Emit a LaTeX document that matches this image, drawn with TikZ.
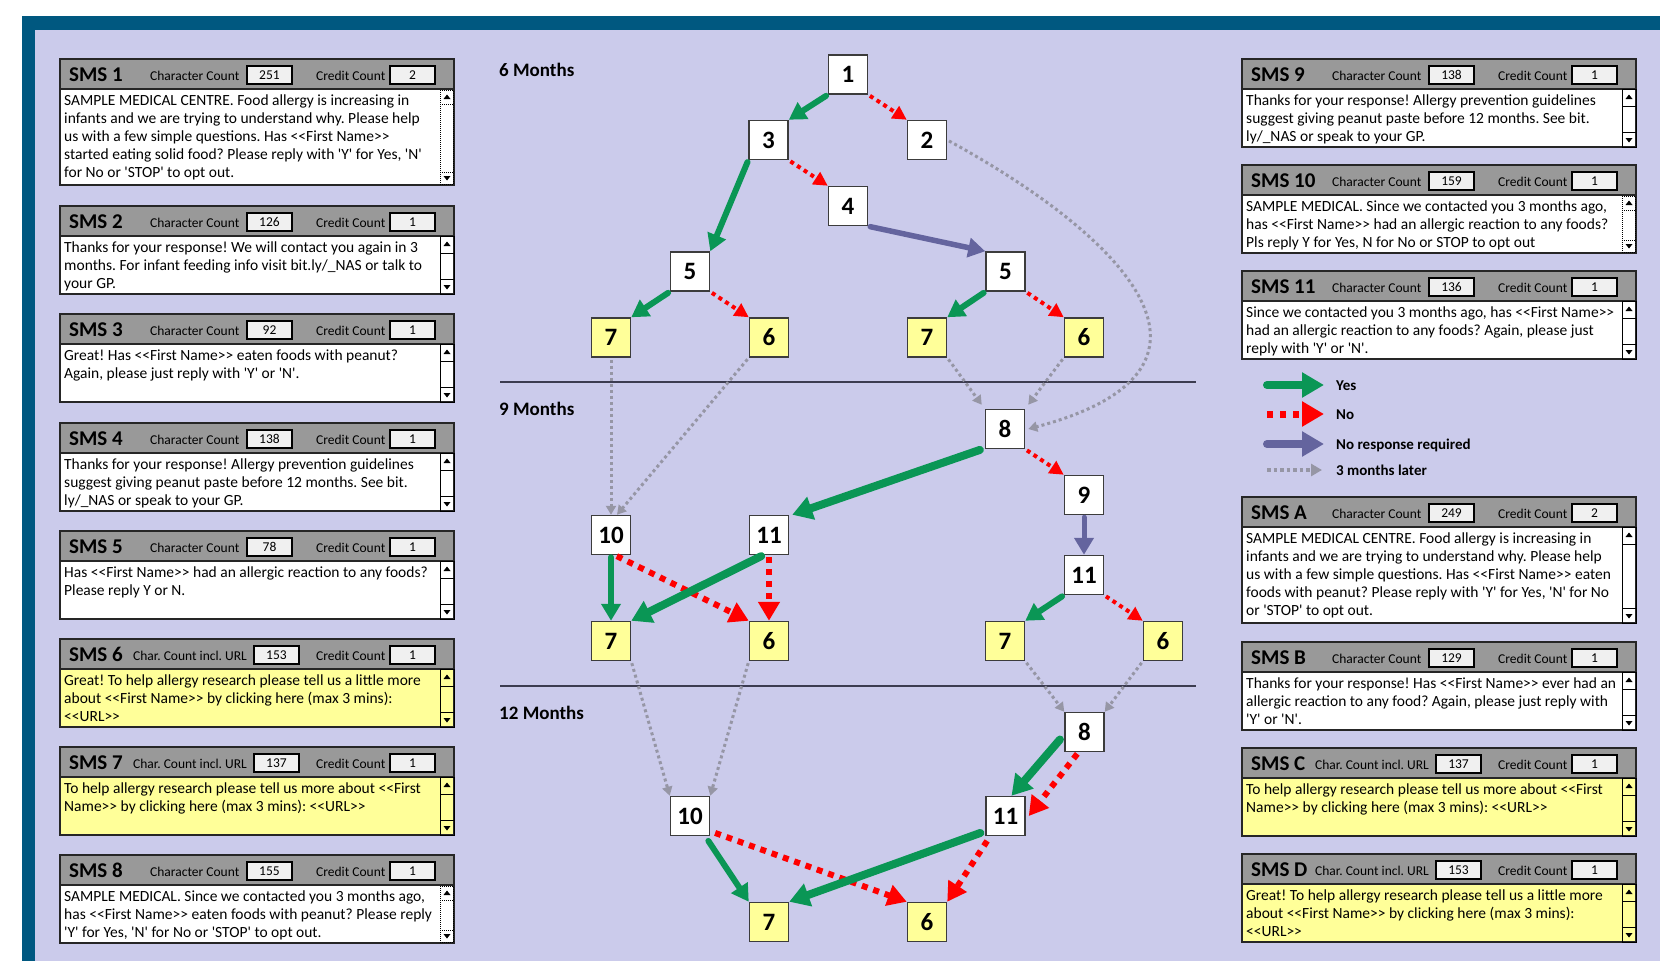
\documentclass[tikz,border=0pt]{standalone}
\usepackage{fontspec}
\setmainfont{Carlito}[Ligatures=TeXOff]
\usetikzlibrary{arrows.meta}
\frenchspacing

\definecolor{frameblue}{RGB}{0,88,128}
\definecolor{lav}{RGB}{203,203,235}
\definecolor{hdrgray}{RGB}{153,153,153}
\definecolor{valgray}{RGB}{240,240,240}
\definecolor{noteyellow}{RGB}{255,255,153}
\definecolor{yesgreen}{RGB}{10,150,85}
\definecolor{nored}{RGB}{255,0,0}
\definecolor{nrblue}{RGB}{100,100,158}
\definecolor{latergray}{RGB}{150,150,165}
\definecolor{boxline}{RGB}{60,60,60}
\definecolor{rulecol}{RGB}{60,60,80}

\newcommand\bodyFont{\fontsize{15.5}{18}\selectfont}
\newcommand\smsTitleFont{\fontsize{21}{24}\selectfont\bfseries}
\newcommand\smallFont{\fontsize{13.5}{15}\selectfont}
\newcommand\numFont{\fontsize{25}{28}\selectfont\bfseries}
\newcommand\secFont{\fontsize{19}{22}\selectfont\bfseries}
\newcommand\legFont{\fontsize{15}{18}\selectfont\bfseries}

\tikzset{
  panelline/.style={draw=black!85, line width=1.5},
  valbox/.style={draw=black, line width=1.2, fill=valgray, minimum width=45, minimum height=18, inner sep=0, font=\smallFont},
  numbox/.style={draw=boxline, line width=1.5, fill=white, minimum size=39, inner sep=0, font=\numFont},
  yellowbox/.style={numbox, fill=noteyellow},
  yesarrow/.style={draw=yesgreen, line width=6, line cap=round, shorten <=2pt, -{Triangle[length=17pt,width=19pt]}},
  yesthick/.style={draw=yesgreen, line width=8, line cap=round, shorten <=2pt, -{Triangle[length=20pt,width=23pt]}},
  noarrow/.style={draw=nored, line width=4, dash pattern=on 4pt off 4pt, shorten <=2pt, -{Triangle[length=14pt,width=14pt]}},
  nothick/.style={draw=nored, line width=6, dash pattern=on 6pt off 6pt, shorten <=2pt, -{Triangle[length=19pt,width=21pt]}},
  nrarrow/.style={draw=nrblue, line width=5.5, line cap=round, shorten <=2pt, -{Triangle[length=17pt,width=19pt]}},
  laterarrow/.style={draw=latergray, line width=3, dash pattern=on 3pt off 3pt, shorten <=2pt, -{Triangle[length=9pt,width=10pt]}},
  scrl/.style={draw=black, line width=1},
  scrldot/.style={draw=black, line width=1, dash pattern=on 1pt off 1pt},
}

% one SMS panel: #1 x, #2 y, #3 id, #4 kind (0 plain, 1 dotted scroll bar, 2 count incl. URL),
% #5 character count, #6 credit count, #7 body colour, #8 body height, #9 lines of text
\newcommand\smspanel[9]{%
  \begin{scope}[shift={(#1,#2)}]
    \fill[#7] (0,30) rectangle (394,30+#8);
    \draw[panelline] (0,30) rectangle (394,30+#8);
    \draw[panelline, fill=hdrgray] (0,0) rectangle (394,30);
    \draw[black!85, line width=2.5] (0,30) -- (394,30);
    \node[anchor=base west, inner sep=0, font=\smsTitleFont] (sms#3) at (9,22.5) {SMS #3};
    \ifnum#4=2
      \node[anchor=base west, inner sep=0, font=\smallFont] (cl#3) at (73,21) {Char. Count incl. URL};
      \node[valbox] (cv#3) at (216.5,16) {#5};
    \else
      \node[anchor=base west, inner sep=0, font=\smallFont] (cl#3) at (90,21) {Character Count};
      \node[valbox] (cv#3) at (209.5,16) {#5};
    \fi
    \node[anchor=base west, inner sep=0, font=\smallFont] (rl#3) at (256,21) {Credit Count};
    \node[valbox] (rv#3) at (352.5,16) {#6};
    \ifnum#4=1
      \draw[scrldot] (380,31) rectangle (393.5,29+#8);
      \draw[scrldot] (380,45) -- (393.5,45);
      \draw[scrldot] (380,30+#8-13) -- (393.5,30+#8-13);
    \else
      \draw[scrl] (380,30) rectangle (394,30+#8);
      \draw[scrl] (380,47) -- (394,47);
      \draw[scrl] (380,30+#8-15) -- (394,30+#8-15);
    \fi
    \fill (387,35.5) -- (383.5,40) -- (390.5,40) -- cycle;
    \fill (387,30+#8-4.5) -- (383.5,30+#8-9) -- (390.5,30+#8-9) -- cycle;
    \foreach \txtline [count=\i from 0] in {#9} {
      \node[anchor=base west, inner sep=0, font=\bodyFont] (tx#3-\i) at (4,46+18.2*\i) {\txtline};
    }
  \end{scope}}

\begin{document}
\begin{tikzpicture}[x=1pt, y=-1pt]
  \useasboundingbox (0,0) rectangle (1660,961);
  % window frame and sheet background
  \fill[white] (0,0) rectangle (1660,961);
  \fill[frameblue] (22,16) rectangle (1660,961);
  \fill[lav] (35,30) rectangle (1660,961);

  % ---------------- message panels, left column
  \smspanel{60}{59}{1}{1}{251}{2}{white}{96}{
    {SAMPLE MEDICAL CENTRE. Food allergy is increasing in},
    {infants and we are trying to understand why. Please help},
    {us with a few simple questions. Has <<First Name>>},
    {started eating solid food? Please reply with 'Y' for Yes, 'N'},
    {for No or 'STOP' to opt out.}}
  \smspanel{60}{206}{2}{0}{126}{1}{white}{58}{
    {Thanks for your response! We will contact you again in 3},
    {months. For infant feeding info visit bit.ly/\_NAS or talk to},
    {your GP.}}
  \smspanel{60}{314}{3}{0}{92}{1}{white}{58}{
    {Great! Has <<First Name>> eaten foods with peanut?},
    {Again, please just reply with 'Y' or 'N'.}}
  \smspanel{60}{423}{4}{0}{138}{1}{white}{58}{
    {Thanks for your response! Allergy prevention guidelines},
    {suggest giving peanut paste before 12 months. See bit.},
    {ly/\_NAS or speak to your GP.}}
  \smspanel{60}{531}{5}{0}{78}{1}{white}{58}{
    {Has <<First Name>> had an allergic reaction to any foods?},
    {Please reply Y or N.}}
  \smspanel{60}{639}{6}{2}{153}{1}{noteyellow}{58}{
    {Great! To help allergy research please tell us a little more},
    {about <<First Name>> by clicking here (max 3 mins):},
    {<<URL>>}}
  \smspanel{60}{747}{7}{2}{137}{1}{noteyellow}{58}{
    {To help allergy research please tell us more about <<First},
    {Name>> by clicking here (max 3 mins): <<URL>>}}
  \smspanel{60}{855}{8}{1}{155}{1}{white}{58}{
    {SAMPLE MEDICAL. Since we contacted you 3 months ago,},
    {has <<First Name>> eaten foods with peanut? Please reply},
    {'Y' for Yes, 'N' for No or 'STOP' to opt out.}}

  % ---------------- message panels, right column
  \smspanel{1242}{59}{9}{0}{138}{1}{white}{58}{
    {Thanks for your response! Allergy prevention guidelines},
    {suggest giving peanut paste before 12 months. See bit.},
    {ly/\_NAS or speak to your GP.}}
  \smspanel{1242}{165}{10}{1}{159}{1}{white}{58}{
    {SAMPLE MEDICAL. Since we contacted you 3 months ago,},
    {has <<First Name>> had an allergic reaction to any foods?},
    {Pls reply Y for Yes, N for No or STOP to opt out}}
  \smspanel{1242}{271}{11}{0}{136}{1}{white}{58}{
    {Since we contacted you 3 months ago, has <<First Name>>},
    {had an allergic reaction to any foods? Again, please just},
    {reply with 'Y' or 'N'.}}
  \smspanel{1242}{497}{A}{0}{249}{2}{white}{96}{
    {SAMPLE MEDICAL CENTRE. Food allergy is increasing in},
    {infants and we are trying to understand why. Please help},
    {us with a few simple questions. Has <<First Name>> eaten},
    {foods with peanut? Please reply with 'Y' for Yes, 'N' for No},
    {or 'STOP' to opt out.}}
  \smspanel{1242}{642}{B}{0}{129}{1}{white}{58}{
    {Thanks for your response! Has <<First Name>> ever had an},
    {allergic reaction to any food? Again, please just reply with},
    {'Y' or 'N'.}}
  \smspanel{1242}{748}{C}{2}{137}{1}{noteyellow}{58}{
    {To help allergy research please tell us more about <<First},
    {Name>> by clicking here (max 3 mins): <<URL>>}}
  \smspanel{1242}{854}{D}{2}{153}{1}{noteyellow}{58}{
    {Great! To help allergy research please tell us a little more},
    {about <<First Name>> by clicking here (max 3 mins):},
    {<<URL>>}}

  % ---------------- legend
  \coordinate (lgYa) at (1267,385);  \coordinate (lgYb) at (1324,385);
  \coordinate (lgNa) at (1267,414);  \coordinate (lgNb) at (1324,414);
  \coordinate (lgRa) at (1267,444);  \coordinate (lgRb) at (1324,444);
  \coordinate (lgLa) at (1267,470);  \coordinate (lgLb) at (1322,470);
  \draw[draw=yesgreen, line width=8, line cap=round, -{Triangle[length=22pt,width=24pt]}] (lgYa) -- (lgYb);
  \draw[draw=nored, line width=7, dash pattern=on 6pt off 7pt, -{Triangle[length=22pt,width=24pt]}] (lgNa) -- (lgNb);
  \draw[draw=nrblue, line width=8, line cap=round, -{Triangle[length=22pt,width=24pt]}] (lgRa) -- (lgRb);
  \draw[draw=latergray, line width=3.5, dash pattern=on 3.5pt off 3pt, -{Triangle[length=11pt,width=12pt]}] (lgLa) -- (lgLb);
  \node[anchor=base west, inner sep=0, font=\legFont] (lgY) at (1336,390) {Yes};
  \node[anchor=base west, inner sep=0, font=\legFont] (lgN) at (1336,419) {No};
  \node[anchor=base west, inner sep=0, font=\legFont] (lgR) at (1336,449) {No response required};
  \node[anchor=base west, inner sep=0, font=\legFont] (lgL) at (1336,475) {3 months later};

  % ---------------- period headings and dividers
  \node[anchor=base west, inner sep=0, font=\secFont] (m6) at (499,76.5) {6 Months};
  \node[anchor=base west, inner sep=0, font=\secFont] (m9) at (499,415.5) {9 Months};
  \node[anchor=base west, inner sep=0, font=\secFont] (m12) at (499,719) {12 Months};
  \draw[rulecol, line width=1.3] (500,382) -- (1196,382);
  \draw[rulecol, line width=1.3] (500,686) -- (1196,686);

  % ---------------- 6 months
  \node[numbox] (n1) at (848,74.5) {1};
  \node[numbox] (n3) at (768.5,140) {3};
  \node[numbox] (n2) at (927,140) {2};
  \node[numbox] (n4) at (848,206) {4};
  \node[numbox] (n5a) at (690,271.5) {5};
  \node[numbox] (n5b) at (1005.5,271.5) {5};
  \node[yellowbox] (n7a) at (611,337.5) {7};
  \node[yellowbox] (n6a) at (769,337.5) {6};
  \node[yellowbox] (n7b) at (927,337.5) {7};
  \node[yellowbox] (n6b) at (1084,337.5) {6};

  % ---------------- 9 months
  \node[numbox] (n8) at (1005,429) {8};
  \node[numbox] (n9) at (1084,495) {9};
  \node[numbox] (n10) at (611,535) {10};
  \node[numbox] (n11) at (769,535) {11};
  \node[numbox] (n11b) at (1084,575) {11};
  \node[yellowbox] (n7c) at (611,641) {7};
  \node[yellowbox] (n6c) at (769,641) {6};
  \node[yellowbox] (n7d) at (1005,641) {7};
  \node[yellowbox] (n6d) at (1163,641) {6};

  % ---------------- 12 months
  \node[numbox] (n8e) at (1084.5,732) {8};
  \node[numbox] (n11e) at (1005.5,816) {11};
  \node[numbox] (n10e) at (690,816) {10};
  \node[yellowbox] (n7e) at (769,922) {7};
  \node[yellowbox] (n6e) at (927,922) {6};

  % answers at 6 months
  \draw[yesarrow] (n1.south west) -- (n3.north east);
  \draw[noarrow] (n1.south east) -- (n2.north west);
  \draw[yesarrow] (n3.south west) -- (n5a.north east);
  \draw[noarrow] (n3.south east) -- (n4.north west);
  \draw[nrarrow] (n4.south east) -- (n5b.north west);
  \draw[yesarrow] (n5a.south west) -- (n7a.north east);
  \draw[noarrow] (n5a.south east) -- (n6a.north west);
  \draw[yesarrow] (n5b.south west) -- (n7b.north east);
  \draw[noarrow] (n5b.south east) -- (n6b.north west);

  % three months later: 6 -> 9 months
  \draw[laterarrow] (n7a.south) -- (n10.north);
  \draw[laterarrow] (n6a.south west) -- ([xshift=6pt]n10.north);
  \draw[laterarrow] (n7b.south east) -- ([xshift=-3pt,yshift=4pt]n8.north west);
  \draw[laterarrow] (n6b.south west) -- ([xshift=3pt,yshift=4pt]n8.north east);
  \draw[laterarrow] (n2.east) .. controls (1130,240) and (1250,370) .. ([xshift=3pt]n8.east);

  % answers at 9 months
  \draw[noarrow] (n8.south east) -- (n9.north west);
  \draw[yesthick] ([xshift=-3pt]n8.south west) -- ([xshift=3pt]n11.north east);
  \draw[nrarrow, line width=5] (n9.south) -- (n11b.north);
  \draw[yesarrow] (n10.south) -- (n7c.north);
  \draw[nothick] ([xshift=4pt]n10.south) -- (n6c.north west);
  \draw[yesthick] ([xshift=-6pt]n11.south) -- (n7c.north east);
  \draw[nothick] (n11.south) -- (n6c.north);
  \draw[yesarrow] (n11b.south west) -- (n7d.north east);
  \draw[noarrow] (n11b.south east) -- (n6d.north west);

  % three months later: 9 -> 12 months
  \draw[laterarrow] (n7c.south east) -- (n10e.north west);
  \draw[laterarrow] (n6c.south west) -- (n10e.north east);
  \draw[laterarrow] (n7d.south east) -- (n8e.north west);
  \draw[laterarrow] (n6d.south west) -- (n8e.north east);

  % answers at 12 months
  \draw[yesthick] ([xshift=-3pt,yshift=-6pt]n8e.west) -- ([xshift=6pt]n11e.north);
  \draw[nothick] ([xshift=-6pt]n8e.south) -- ([xshift=3pt]n11e.east);
  \draw[yesarrow] ([xshift=-3pt,yshift=-3pt]n10e.south east) -- (n7e.north west);
  \draw[nothick] ([xshift=3pt,yshift=4pt]n10e.south east) -- (n6e.north west);
  \draw[yesthick] ([xshift=-3pt,yshift=4pt]n11e.south west) -- (n7e.north east);
  \draw[nothick] ([xshift=3pt,yshift=-3pt]n11e.south west) -- (n6e.north east);
\end{tikzpicture}
\end{document}
